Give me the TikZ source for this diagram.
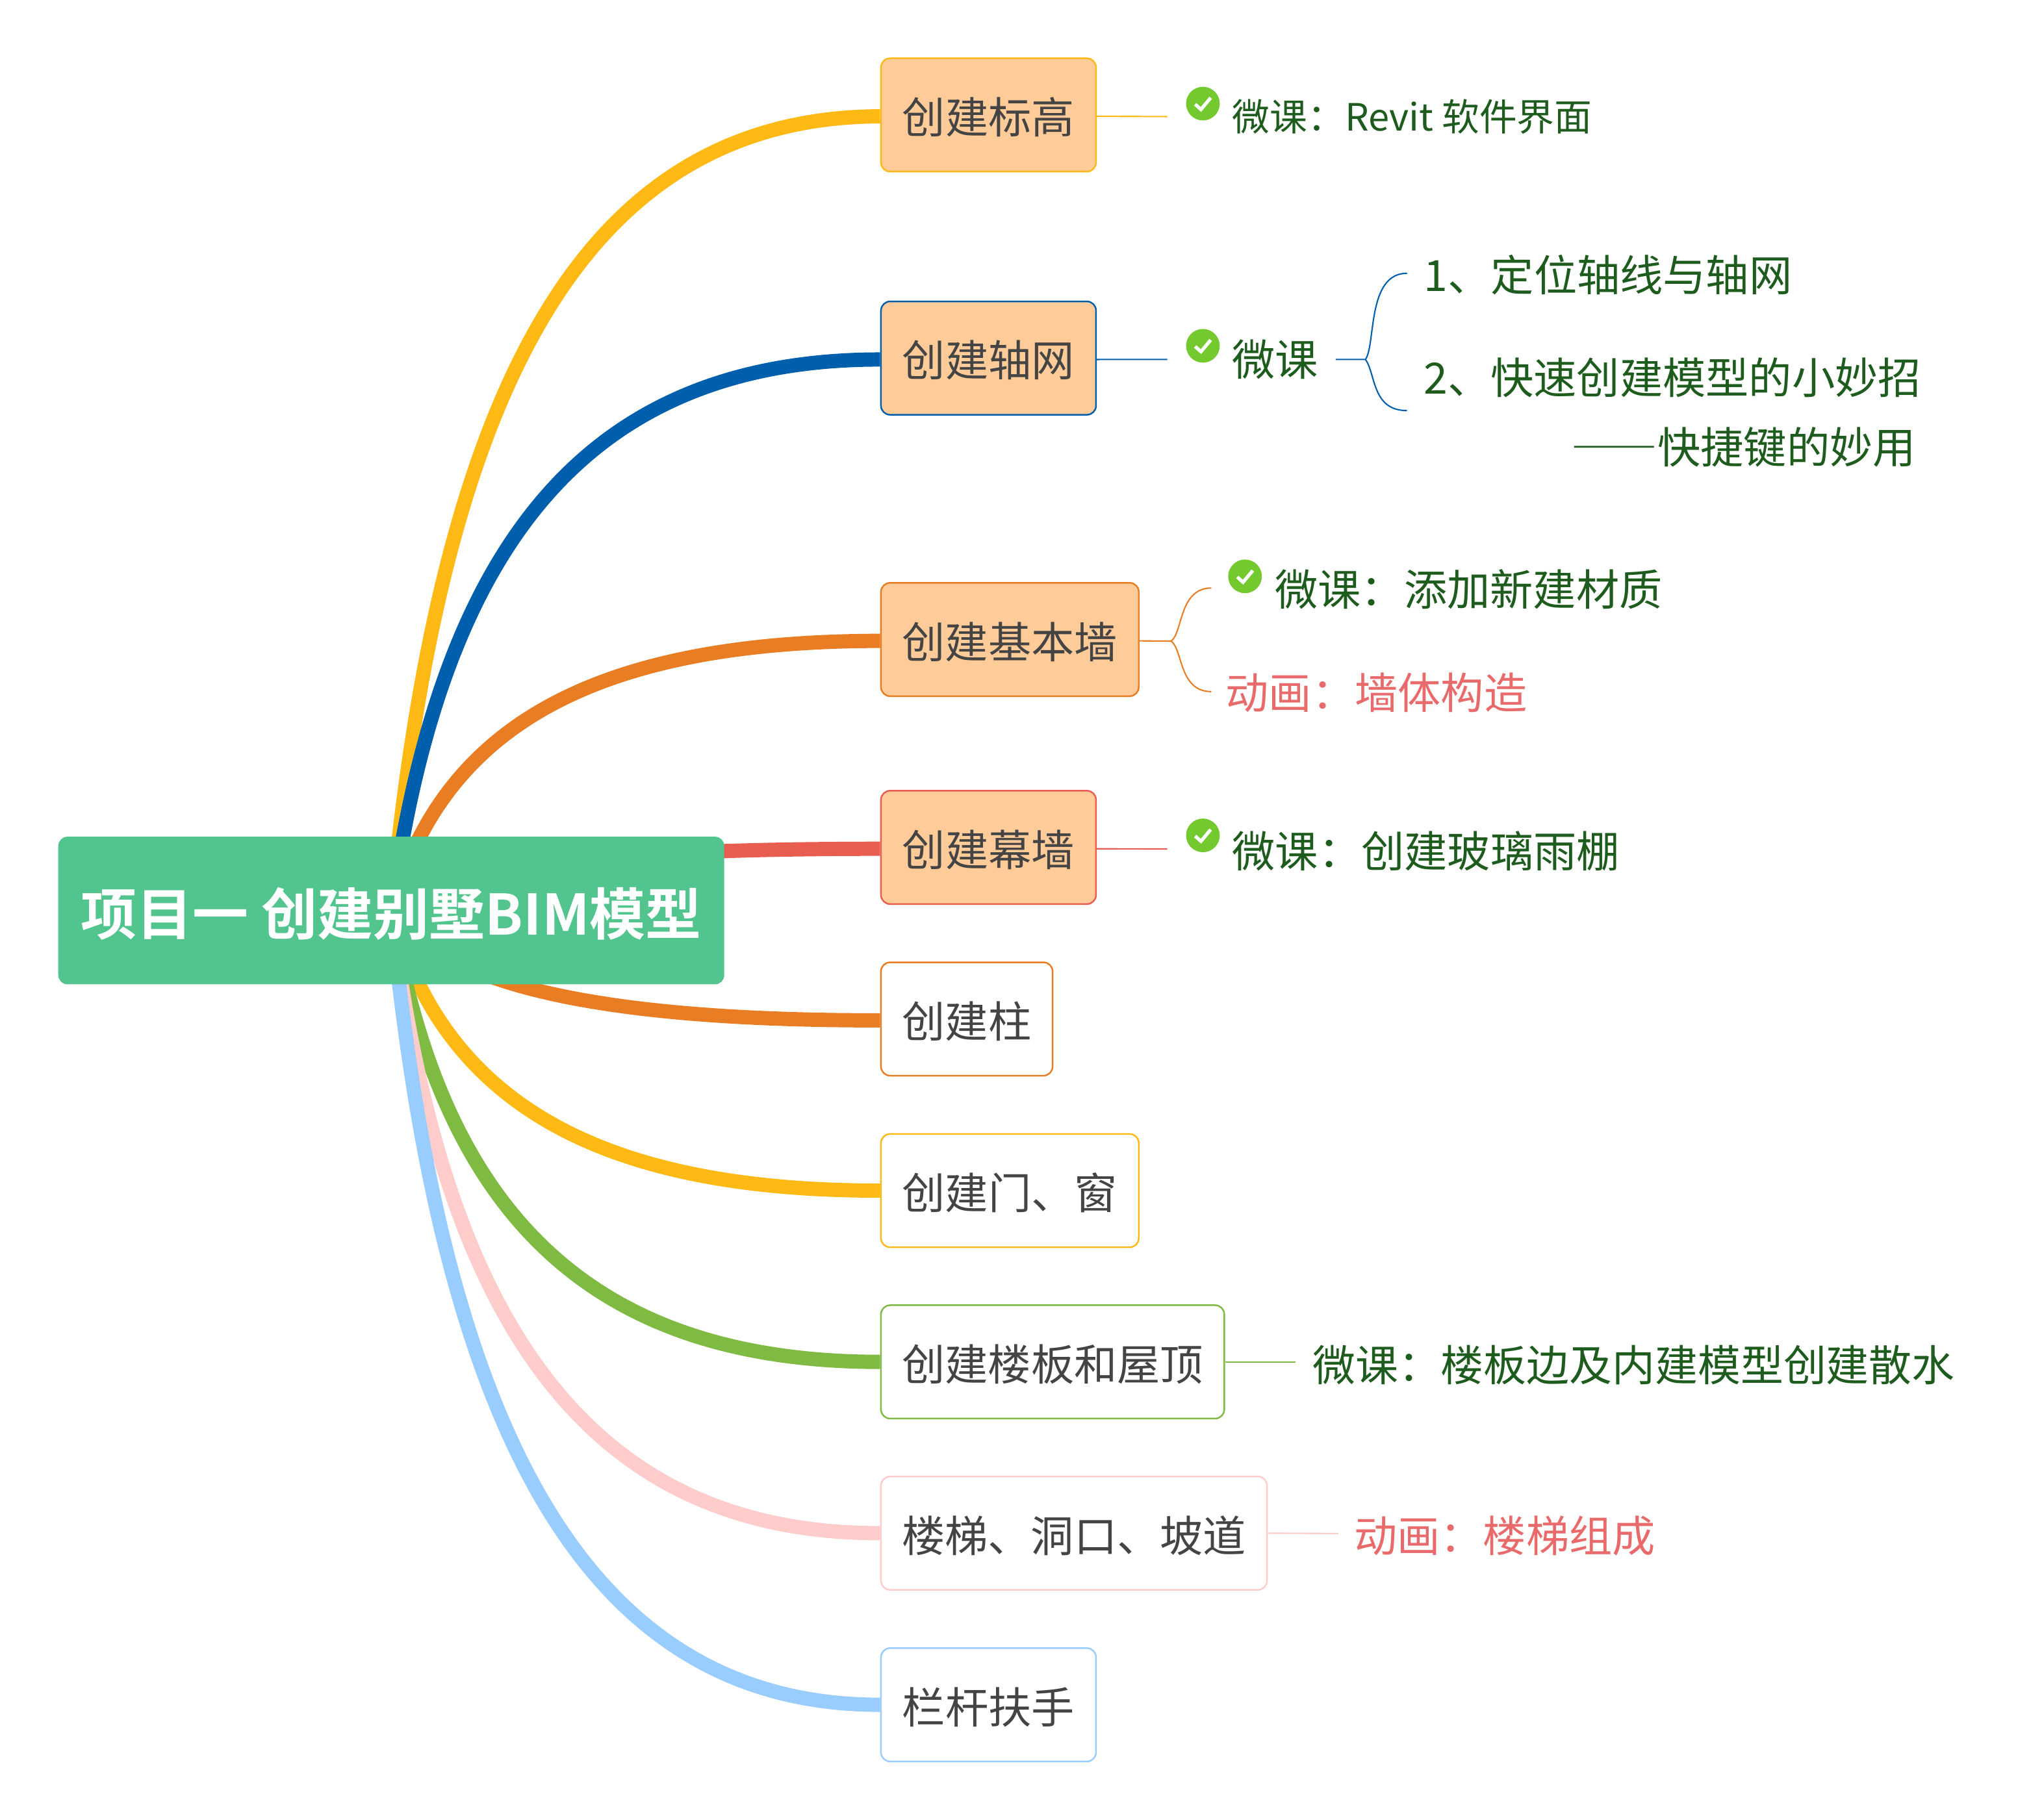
\documentclass[tikz,border=0pt]{standalone}
\usepackage{fontspec}
\usetikzlibrary{backgrounds}
\setmainfont{Noto Sans CJK SC}[BoldFont=* Bold]
\definecolor{cyellow}{HTML}{FFB914}
\definecolor{cblue}{HTML}{005FAD}
\definecolor{corange}{HTML}{E97D24}
\definecolor{cred}{HTML}{E95D50}
\definecolor{cgreen}{HTML}{7FBA42}
\definecolor{cpink}{HTML}{FFCCCC}
\definecolor{clight}{HTML}{99CCFF}
\definecolor{croot}{HTML}{52C48E}
\definecolor{cpeach}{HTML}{FFCC99}
\definecolor{ctext}{HTML}{444444}
\definecolor{cgtext}{HTML}{1E5C1E}
\definecolor{credtext}{HTML}{E96A6A}
\definecolor{ccheck}{HTML}{73C92D}
\tikzset{
  x=0.01994cm,y=-0.01994cm,
  branch/.style={line width=12.5pt,line cap=butt},
  thinlink/.style={line width=1.2pt},
  topic/.style n args={3}{draw=#2,fill=#3,text=ctext,line width=1.4pt,rounded corners=8pt,
    minimum width=#1*0.01994cm,minimum height=175*0.01994cm,inner sep=0pt,
    text height=36pt,text depth=3.4pt,
    font=\fontsize{37.7}{45}\selectfont},
  roottopic/.style={fill=croot,text=white,rounded corners=8pt,minimum width=1028*0.01994cm,minimum height=228*0.01994cm,
    inner sep=0pt,text height=46pt,text depth=2.8pt,font=\fontsize{49}{56}\selectfont\bfseries},
  gnote/.style={text=cgtext,inner sep=0pt,anchor=west,font=\fontsize{37.7}{45}\selectfont},
  rnote/.style={text=credtext,inner sep=0pt,anchor=west,font=\fontsize{37.7}{45}\selectfont},
  checkicon/.style={circle,fill=ccheck,minimum size=52*0.01994cm,inner sep=0pt,
    path picture={\draw[white,line width=3pt]
      ([shift={(-12,1)}]path picture bounding box.center) --
      ([shift={(-3,9)}]path picture bounding box.center) --
      ([shift={(12,-9)}]path picture bounding box.center);}},
}
\begin{document}
\begin{tikzpicture}
\useasboundingbox (0,0) rectangle (3135.4,2810.4);
\node[roottopic] (root) at (604,1406) {项目一 创建别墅BIM模型};
\node[topic={332}{cyellow}{cpeach}] (t1) at (1526,177.5) {创建标高};
\node[topic={332}{cblue}{cpeach}] (t2) at (1526,553) {创建轴网};
\node[topic={398}{corange}{cpeach}] (t3) at (1559,987.5) {创建基本墙};
\node[topic={332}{cred}{cpeach}] (t4) at (1526,1308.5) {创建幕墙};
\node[topic={265}{corange}{white}] (t5) at (1492.5,1573.5) {创建柱};
\node[topic={398}{cyellow}{white}] (t6) at (1559,1838.5) {创建门、窗};
\node[topic={530}{cgreen}{white}] (t7) at (1625,2103) {创建楼板和屋顶};
\node[topic={596}{cpink}{white}] (t8) at (1658,2367.5) {楼梯、洞口、坡道};
\node[topic={332}{clight}{white}] (t9) at (1526,2632.5) {栏杆扶手};
\begin{scope}[on background layer]
\draw[branch,cyellow] (root.center) .. controls (680,600) and (900,181) .. ([yshift=-1.2pt]t1.west);
\draw[branch,cblue] (root.center) .. controls (680,850) and (900,555) .. ([yshift=-1.2pt]t2.west);
\draw[branch,corange] (root.center) .. controls (680,1133) and (900,990) .. ([yshift=-1.2pt]t3.west);
\draw[branch,cred] (root.center) .. controls (680,1341) and (900,1311) .. ([yshift=-1.2pt]t4.west);
\draw[branch,corange] (root.center) .. controls (680,1514) and (900,1576) .. ([yshift=-1.2pt]t5.west);
\draw[branch,cyellow] (root.center) .. controls (680,1685) and (900,1839) .. (t6.west);
\draw[branch,cgreen] (root.center) .. controls (680,1860) and (900,2103) .. (t7.west);
\draw[branch,cpink] (root.center) .. controls (680,2030) and (900,2368) .. (t8.west);
\draw[branch,clight] (root.center) .. controls (680,2200) and (900,2633) .. (t9.west);
\end{scope}
% notes
\node[checkicon] (i1) at (1857,160) {};
\node[gnote,font=\fontsize{32.9}{40}\selectfont] (n1) at (1902,180) {微课：Revit 软件界面};
\coordinate (e1) at (1802,180);
\draw[thinlink,cyellow] ([yshift=-1.2pt]t1.east) -- (e1);
\node[checkicon] (i2) at (1857,534) {};
\node[gnote] (n2) at (1902,555) {微课};
\coordinate (e2) at (1802,555);
\draw[thinlink,cblue] ([yshift=-1.2pt]t2.east) -- (e2);
\node[gnote] (n21) at (2198,424) {1、定位轴线与轴网};
\node[gnote,anchor=east,align=right,font=\fontsize{37.7}{60}\selectfont] (n22) at (2966,637) {2、快速创建模型的小妙招\\[1.2pt]{\addfontfeature{RawFeature=+fwid}——}快捷键的妙用\hspace*{4.5pt}\null};
\coordinate (b2) at (2062,555);
\coordinate (f2) at (2108,555);
\coordinate (u2) at (2172,422);
\coordinate (d2) at (2172,634);
\draw[thinlink,cblue] (b2) -- (f2) .. controls (2124,532) and (2110,422) .. (u2);
\draw[thinlink,cblue] (f2) .. controls (2124,578) and (2118,634) .. (d2);
\node[checkicon] (i3) at (1922,890) {};
\node[gnote] (n3) at (1968,910) {微课：添加新建材质};
\node[rnote] (n32) at (1892,1070) {动画：墙体构造};
\coordinate (f3) at (1808,990);
\coordinate (u3) at (1870,908);
\coordinate (d3) at (1870,1068);
\draw[thinlink,corange] ([yshift=-1.2pt]t3.east) -- (f3) .. controls (1826,977) and (1820,908) .. (u3);
\draw[thinlink,corange] (f3) .. controls (1826,1003) and (1820,1068) .. (d3);
\node[checkicon] (i4) at (1857,1290) {};
\node[gnote] (n4) at (1902,1314) {微课：创建玻璃雨棚};
\coordinate (e4) at (1802,1311);
\draw[thinlink,cred] ([yshift=-1.2pt]t4.east) -- (e4);
\node[gnote,font=\fontsize{37.5}{45}\selectfont] (n7) at (2026,2108) {微课：楼板边及内建模型创建散水};
\coordinate (e7) at (2000,2103);
\draw[thinlink,cgreen] (t7.east) -- (e7);
\node[rnote] (n8) at (2090,2372) {动画：楼梯组成};
\coordinate (e8) at (2066,2368);
\draw[thinlink,cpink] (t8.east) -- (e8);
\end{tikzpicture}
\end{document}
